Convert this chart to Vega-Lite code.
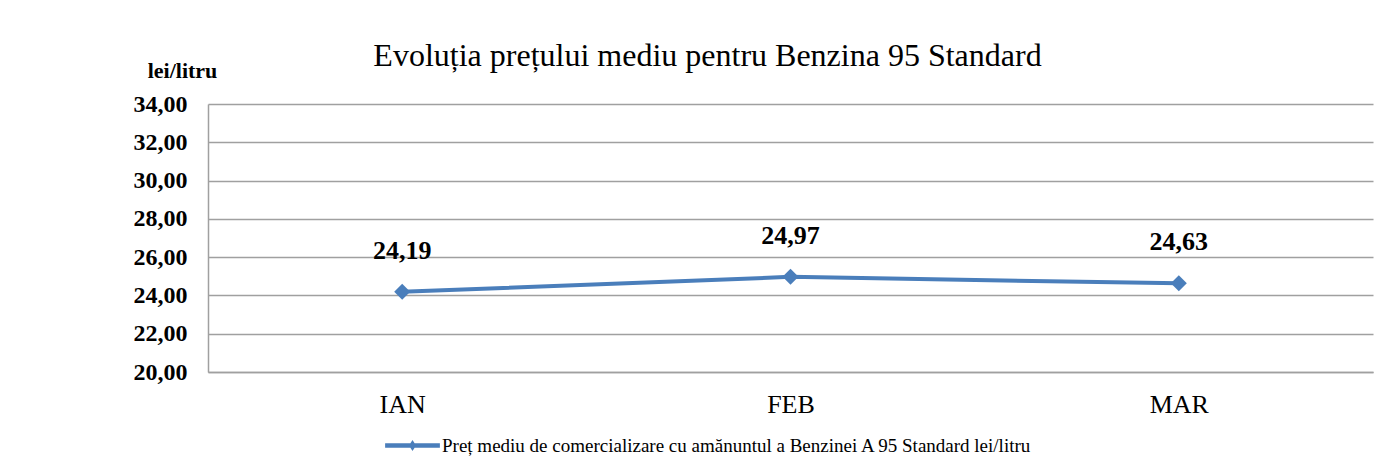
{
  "$schema": "https://vega.github.io/schema/vega-lite/v6.json",
  "autosize": {"type": "none"},
  "width": 1165,
  "height": 268,
  "padding": {"left": 208, "top": 104, "right": 19, "bottom": 96},
  "background": "white",
  "title": {
    "text": "Evoluția prețului mediu pentru Benzina 95 Standard",
    "font": "Liberation Serif",
    "fontSize": 32,
    "fontWeight": "normal",
    "color": "#000000",
    "anchor": "middle",
    "dx": -83,
    "dy": 34,
    "offset": 20
  },
  "data": {
    "values": [
      {"luna": "IAN", "pret": 24.19, "serie": "Preț mediu de comercializare cu amănuntul a Benzinei A 95 Standard lei/litru"},
      {"luna": "FEB", "pret": 24.97, "serie": "Preț mediu de comercializare cu amănuntul a Benzinei A 95 Standard lei/litru"},
      {"luna": "MAR", "pret": 24.63, "serie": "Preț mediu de comercializare cu amănuntul a Benzinei A 95 Standard lei/litru"}
    ]
  },
  "encoding": {
    "x": {
      "field": "luna",
      "type": "nominal",
      "sort": ["IAN", "FEB", "MAR"],
      "scale": {"type": "point", "padding": 0.5},
      "axis": {
        "title": null,
        "labelAngle": 0,
        "labelFont": "Liberation Serif",
        "labelFontSize": 26,
        "labelColor": "#000000",
        "labelPadding": 19,
        "ticks": false,
        "domain": true,
        "domainColor": "#a0a0a0",
        "domainWidth": 1.5,
        "grid": false
      }
    },
    "y": {
      "field": "pret",
      "type": "quantitative",
      "scale": {"domain": [20, 34], "nice": false, "zero": false},
      "axis": {
        "values": [20, 22, 24, 26, 28, 30, 32, 34],
        "format": ".2f",
        "title": "lei/litru",
        "titleAngle": 0,
        "titleFont": "Liberation Serif",
        "titleFontSize": 22,
        "titleFontWeight": "bold",
        "titleColor": "#000000",
        "titleAlign": "center",
        "titleBaseline": "middle",
        "titleX": -26,
        "titleY": -34,
        "labelFont": "Liberation Serif",
        "labelFontSize": 24,
        "labelFontWeight": "bold",
        "labelColor": "#000000",
        "labelPadding": 21,
        "ticks": false,
        "domain": true,
        "domainColor": "#a0a0a0",
        "domainWidth": 1.5,
        "grid": true,
        "gridColor": "#a0a0a0",
        "gridWidth": 1.5
      }
    }
  },
  "layer": [
    {
      "mark": {"type": "line", "strokeWidth": 4, "color": "#4a7ebb"},
      "encoding": {
        "color": {
          "field": "serie",
          "type": "nominal",
          "scale": {"range": ["#4a7ebb"]},
          "legend": {
            "title": null,
            "orient": "none",
            "legendX": 177,
            "legendY": 314,
            "labelFont": "Liberation Serif",
            "labelFontSize": 19,
            "labelColor": "#000000",
            "labelLimit": 1000,
            "labelOffset": 2,
            "symbolType": "M-1,-0.08L1,-0.08L1,0.08L-1,0.08Z M0,-0.2L0.13,0L0,0.2L-0.13,0Z",
            "symbolSize": 3000,
            "symbolFillColor": "#4a7ebb",
            "symbolStrokeColor": "#4a7ebb",
            "symbolStrokeWidth": 0,
            "symbolOpacity": 1
          }
        }
      }
    },
    {
      "mark": {"type": "point", "shape": "diamond", "filled": true, "size": 256, "color": "#4a7ebb", "opacity": 1},
      "encoding": {}
    },
    {
      "mark": {"type": "text", "dy": -41, "font": "Liberation Serif", "fontSize": 26, "fontWeight": "bold", "color": "#000000"},
      "encoding": {
        "text": {"field": "pret", "type": "quantitative", "format": ".2f"}
      }
    }
  ],
  "config": {
    "locale": {
      "number": {"decimal": ",", "thousands": ".", "grouping": [3], "currency": ["", " lei"]}
    },
    "view": {"stroke": null}
  }
}
